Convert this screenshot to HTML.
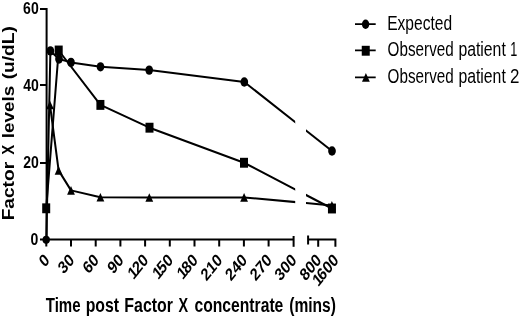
<!DOCTYPE html>
<html><head><meta charset="utf-8"><style>
html,body{margin:0;padding:0;background:#fff;}
body{width:520px;height:318px;overflow:hidden;}
svg{position:absolute;left:0;top:0;display:block;will-change:transform;}
text{font-family:"Liberation Sans",sans-serif;fill:#000;}
.b{font-weight:bold;}
</style></head><body>
<svg width="520" height="318" viewBox="0 0 520 318">
<defs>
<clipPath id="c1"><rect x="0" y="0" width="295.2" height="318"/></clipPath>
<clipPath id="c2"><rect x="305.9" y="0" width="220" height="318"/></clipPath>
</defs>
<!-- axes -->
<g stroke="#000" stroke-width="2" fill="none">
<path d="M40,9H46.6V239.6H293.6"/>
<path d="M40,85.1H46.6M40,163H46.6M40,239.6H46.6"/>
<path d="M46.3,239.6V246.6M71,239.6V246.6M95.7,239.6V246.6M120.4,239.6V246.6M145.1,239.6V246.6M169.8,239.6V246.6M194.5,239.6V246.6M219.2,239.6V246.6M243.9,239.6V246.6M268.6,239.6V246.6"/>
<path d="M293.6,236V246.8"/>
<path d="M308.1,235.5V244.6M308.1,239.6H335.4V246.8M318.2,239.6V246.8"/>
</g>
<!-- data lines -->
<g stroke="#000" stroke-width="2" fill="none" stroke-linejoin="round">
<g clip-path="url(#c1)">
<polyline points="46.3,239.6 50.4,50.9 59,59 71,62.4 100.5,66.8 149.2,70.1 244.3,82 332,151"/>
<polyline points="46.2,208.3 58.7,50.5 100.4,104.9 149.5,127.7 244,162.75 331.95,208.5"/>
<polyline points="50,105 58.6,170.4 71,190.4 100.4,197.3 149.3,197.5 244.1,197.4 331.9,205.4"/>
</g>
<g clip-path="url(#c2)">
<polyline points="244.3,82 332,151"/>
<polyline points="244,162.75 331.95,208.5"/>
<polyline points="244.1,197.4 331.9,205.4"/>
</g>
</g>
<!-- markers -->
<g fill="#000">
<ellipse cx="46.2" cy="239.8" rx="3.7" ry="4.1"/>
<ellipse cx="50.4" cy="50.9" rx="3.85" ry="4.65"/>
<ellipse cx="59" cy="59" rx="3.85" ry="4.65"/>
<ellipse cx="71" cy="62.4" rx="3.85" ry="4.65"/>
<ellipse cx="100.5" cy="66.8" rx="3.85" ry="4.65"/>
<ellipse cx="149.2" cy="70.1" rx="3.85" ry="4.65"/>
<ellipse cx="244.3" cy="82" rx="3.85" ry="4.65"/>
<ellipse cx="332" cy="151" rx="3.85" ry="4.65"/>
<rect x="42.20" y="203.35" width="8" height="9.9"/>
<rect x="54.70" y="45.55" width="8" height="9.9"/>
<rect x="96.40" y="99.95" width="8" height="9.9"/>
<rect x="145.50" y="122.75" width="8" height="9.9"/>
<rect x="240.00" y="157.80" width="8" height="9.9"/>
<rect x="327.95" y="203.55" width="8" height="9.9"/>
<path d="M50,100.70l3.9,8.6h-7.8z"/>
<path d="M58.6,166.10l3.9,8.6h-7.8z"/>
<path d="M71,186.10l3.9,8.6h-7.8z"/>
<path d="M100.4,193.00l3.9,8.6h-7.8z"/>
<path d="M149.3,193.20l3.9,8.6h-7.8z"/>
<path d="M244.1,193.10l3.9,8.6h-7.8z"/>
<path d="M331.9,201.10l3.9,8.6h-7.8z"/>
</g>
<!-- y tick labels -->
<g class="b" font-size="17.3" text-anchor="end">
<text transform="translate(38.7,14.3) scale(0.81,1)">60</text>
<text transform="translate(38.8,90.8) scale(0.81,1)">40</text>
<text transform="translate(38.9,168) scale(0.81,1)">20</text>
<text transform="translate(38.2,244.8) scale(0.81,1)">0</text>
</g>
<!-- x tick labels -->
<g class="b" font-size="17.5" text-anchor="end">
<text transform="translate(50.3,261.1) scale(0.815,1) rotate(-45)">0</text>
<text transform="translate(75.0,261.1) scale(0.815,1) rotate(-45)">30</text>
<text transform="translate(99.7,261.1) scale(0.815,1) rotate(-45)">60</text>
<text transform="translate(124.4,261.1) scale(0.815,1) rotate(-45)">90</text>
<text transform="translate(149.1,261.1) scale(0.815,1) rotate(-45)">1<tspan dx="-2">20</tspan></text>
<text transform="translate(173.8,261.1) scale(0.815,1) rotate(-45)">1<tspan dx="-2">50</tspan></text>
<text transform="translate(198.5,261.1) scale(0.815,1) rotate(-45)">1<tspan dx="-2">80</tspan></text>
<text transform="translate(223.2,261.1) scale(0.815,1) rotate(-45)">210</text>
<text transform="translate(247.9,261.1) scale(0.815,1) rotate(-45)">240</text>
<text transform="translate(272.6,261.1) scale(0.815,1) rotate(-45)">270</text>
<text transform="translate(297.3,261.1) scale(0.815,1) rotate(-45)">300</text>
<text transform="translate(322.2,261.1) scale(0.815,1) rotate(-45)">800</text>
<text transform="translate(339.4,261.1) scale(0.815,1) rotate(-45)">1<tspan dx="-2">600</tspan></text>
</g>
<!-- y title -->
<g class="b" font-size="17">
<text transform="translate(14.2,220.31) rotate(-90) scale(1.1248,1)">Factor</text>
<text transform="translate(14.2,154.72) rotate(-90) scale(0.8744,1)">X</text>
<text transform="translate(14.2,138.19) rotate(-90) scale(1.1116,1)">levels</text>
<text transform="translate(14.2,79.35) rotate(-90) scale(1.1297,1)">(u/dL)</text>
</g>
<!-- x title -->
<g class="b" font-size="20">
<text transform="translate(45.72,311.5) scale(0.7517,1)">Time</text>
<text transform="translate(85.64,311.5) scale(0.7905,1)">post</text>
<text transform="translate(124.33,311.5) scale(0.7965,1)">Factor</text>
<text transform="translate(178.62,311.5) scale(0.7194,1)">X</text>
<text transform="translate(194.43,311.5) scale(0.7843,1)">concentrate</text>
<text transform="translate(289.24,311.5) scale(0.7787,1)">(mins)</text>
</g>
<!-- legend -->
<g stroke="#000" stroke-width="1.8"><path d="M355,24.1H375.7M355,50.35H375.7M355,77.4H375.7"/></g>
<ellipse cx="365.6" cy="24.2" rx="3.7" ry="4.7"/>
<rect x="361.75" y="45.8" width="8" height="9.9"/>
<path d="M365.9,73.1l3.9,8.6h-7.8z"/>
<g font-size="19.5">
<text transform="translate(387.2,29.5) scale(0.799,1)">Expected</text>
<text transform="translate(387.62,56.2) scale(0.782,1)">Observed</text>
<text transform="translate(458.39,56.2) scale(0.81,1)">patient</text>
<text transform="translate(510.2,56.2) scale(0.65,1)">1</text>
<text transform="translate(387.62,82.9) scale(0.782,1)">Observed</text>
<text transform="translate(458.39,82.9) scale(0.81,1)">patient</text>
<text transform="translate(509.93,82.9) scale(0.869,1)">2</text>
</g>
</svg>
</body></html>
